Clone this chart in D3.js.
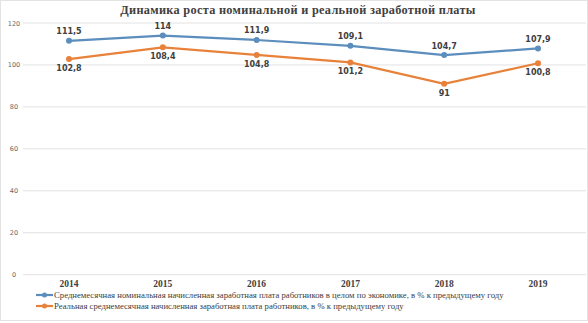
<!DOCTYPE html>
<html><head><meta charset="utf-8">
<script src="https://cdn.jsdelivr.net/npm/d3@7"></script>
<style>body{margin:0;background:#fff}svg{display:block}</style>
</head><body><svg id="c" width="588" height="323"></svg>
<script>
const years = ["2014","2015","2016","2017","2018","2019"];
const nominal = [111.5,114,111.9,109.1,104.7,107.9];
const real = [102.8,108.4,104.8,101.2,91,100.8];
const nominalLabels = ["111,5","114","111,9","109,1","104,7","107,9"];
const realLabels = ["102,8","108,4","104,8","101,2","91","100,8"];
const yTicks = [0,20,40,60,80,100,120];
const title = "Динамика роста номинальной и реальной заработной платы";
const legendNames = ["Среднемесячная номинальная начисленная заработная плата работников в целом по экономике, в % к предыдущему году",
  "Реальная среднемесячная начисленная заработная плата работников, в % к предыдущему году"];
const colors = ["#5B8DBD","#E8823A"];

const svg = d3.select("#c");
svg.append("rect").attr("x",0.5).attr("y",0.5).attr("width",587).attr("height",320)
  .attr("fill","none").attr("stroke","#e3e3e3");

const x = d3.scalePoint().domain(years).range([69,538]);
const y = d3.scaleLinear().domain([0,120]).range([274.7,23]);

svg.append("text").attr("x",298).attr("y",14).attr("text-anchor","middle")
  .attr("font-family","Liberation Serif").attr("font-weight","bold").attr("font-size",12.3)
  .attr("letter-spacing",0.3).attr("fill","#404040").text(title);

const g = svg.append("g");
g.selectAll("line.grid").data(yTicks).join("line").attr("class","grid")
  .attr("x1",23).attr("x2",586).attr("y1",d=>y(d)).attr("y2",d=>y(d))
  .attr("stroke","#e2e2e2").attr("stroke-width",1);
g.selectAll("text.yt").data(yTicks).join("text").attr("class","yt")
  .attr("x",14).attr("y",d=>y(d)+2.5).attr("text-anchor","middle")
  .attr("font-family","DejaVu Sans").attr("font-size",6.5).attr("fill","#666").text(d=>d);
g.selectAll("text.xt").data(years).join("text").attr("class","xt")
  .attr("x",d=>x(d)).attr("y",287).attr("text-anchor","middle")
  .attr("font-family","Liberation Serif").attr("font-weight","bold").attr("font-size",9.5)
  .attr("fill","#404040").text(d=>d);

const series = [nominal, real];
const line = d3.line().x((d,i)=>x(years[i])).y(d=>y(d));
series.forEach((s,k)=>{
  g.append("path").datum(s).attr("d",line).attr("fill","none")
    .attr("stroke",colors[k]).attr("stroke-width",2.2);
  g.selectAll("circle.s"+k).data(s).join("circle").attr("class","s"+k)
    .attr("cx",(d,i)=>x(years[i])).attr("cy",d=>y(d)).attr("r",3).attr("fill",colors[k]);
});
g.selectAll("text.nl").data(nominal).join("text").attr("class","nl")
  .attr("x",(d,i)=>x(years[i])).attr("y",d=>y(d)-6.5).attr("text-anchor","middle")
  .attr("font-family","DejaVu Sans").attr("font-weight","bold").attr("font-size",8)
  .attr("fill","#404040").text((d,i)=>nominalLabels[i]);
g.selectAll("text.rl").data(real).join("text").attr("class","rl")
  .attr("x",(d,i)=>x(years[i])).attr("y",d=>y(d)+12).attr("text-anchor","middle")
  .attr("font-family","DejaVu Sans").attr("font-weight","bold").attr("font-size",8)
  .attr("fill","#404040").text((d,i)=>realLabels[i]);

legendNames.forEach((n,k)=>{
  const ly = 295 + k*11;
  svg.append("line").attr("x1",36).attr("x2",53).attr("y1",ly).attr("y2",ly)
    .attr("stroke",colors[k]).attr("stroke-width",2.2);
  svg.append("circle").attr("cx",44.5).attr("cy",ly).attr("r",2.5).attr("fill",colors[k]);
  svg.append("text").attr("x",54).attr("y",ly+3).attr("font-family","Liberation Serif")
    .attr("font-size",8.7).attr("fill","#404040").text(n);
});
</script></body></html>
